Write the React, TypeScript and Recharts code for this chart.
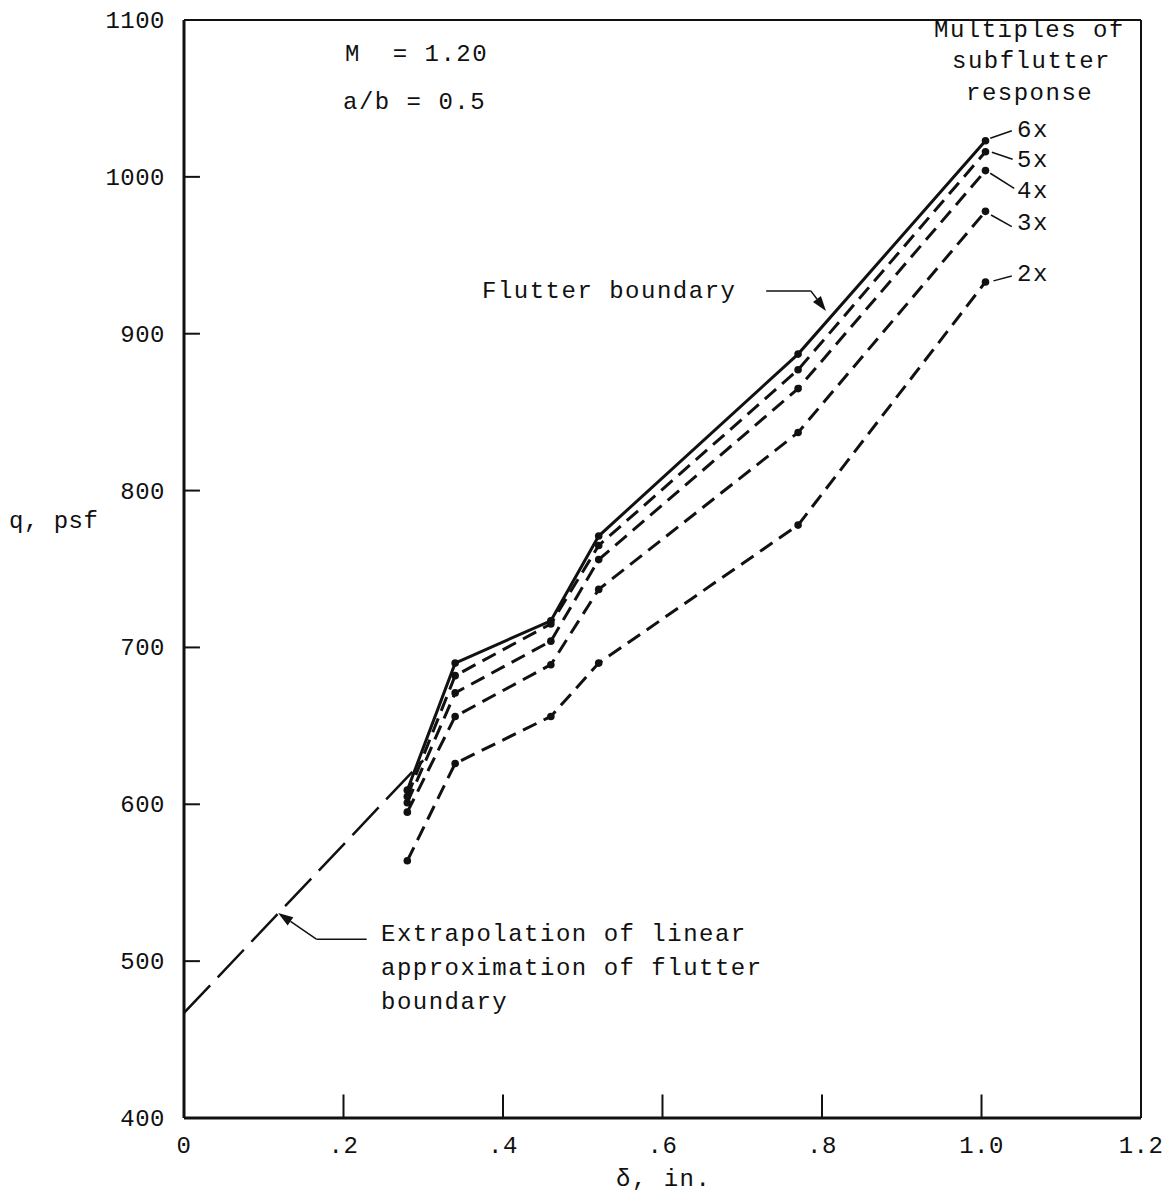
import React from 'react'
import { LineChart, Line, XAxis, YAxis, ReferenceLine } from 'recharts'

// deflection, in. (shared by every response curve)
const DELTA = [0.28, 0.34, 0.46, 0.52, 0.77, 1.005]

// q, psf for each multiple of subflutter response
const Q_6X = [609, 690, 717, 771, 887, 1023] // flutter boundary
const Q_5X = [605, 682, 715, 765, 877, 1016]
const Q_4X = [601, 671, 704, 756, 865, 1004]
const Q_3X = [595, 656, 689, 737, 837, 978]
const Q_2X = [564, 626, 656, 690, 778, 933]

// linear extrapolation of the flutter boundary
const EXTRAP_DELTA = [0, 0.3]
const EXTRAP_Q = [467, 628]

const X_TICKS = [0, 0.2, 0.4, 0.6, 0.8, 1.0, 1.2]
const X_TICK_LABELS = ['0', '.2', '.4', '.6', '.8', '1.0', '1.2']
const Y_TICKS = [400, 500, 600, 700, 800, 900, 1000, 1100]

const toRows = (xs: number[], ys: number[]) => xs.map((d, i) => ({ d, q: ys[i] }))

const SERIES = [
  { key: '6x', q: Q_6X, dash: undefined },
  { key: '5x', q: Q_5X, dash: '15 8' },
  { key: '4x', q: Q_4X, dash: '15 8' },
  { key: '3x', q: Q_3X, dash: '15 8' },
  { key: '2x', q: Q_2X, dash: '15 8' },
]

const FONT = '"Liberation Mono", "DejaVu Sans Mono", monospace'
const INK = '#111'

function Arrow(props: any) {
  const { x1, y1, x2, y2 } = props
  const ang = Math.atan2(y2 - y1, x2 - x1)
  const len = 15
  const w = 5
  const bx = x2 - len * Math.cos(ang)
  const by = y2 - len * Math.sin(ang)
  const px = -Math.sin(ang) * w
  const py = Math.cos(ang) * w
  return (
    <g>
      <line x1={x1} y1={y1} x2={bx} y2={by} stroke={INK} strokeWidth={1.5} />
      <polygon points={`${x2},${y2} ${bx + px},${by + py} ${bx - px},${by - py}`} fill={INK} />
    </g>
  )
}

function XTick({ x, y, payload }: any) {
  const i = X_TICKS.indexOf(payload.value)
  return (
    <text x={x} y={y + 35} textAnchor="middle" fontFamily={FONT} fontSize={24} letterSpacing={0.5} fill={INK}>
      {X_TICK_LABELS[i]}
    </text>
  )
}

function YTick({ x, y, payload }: any) {
  return (
    <text x={x - 19} y={y + 8} textAnchor="end" fontFamily={FONT} fontSize={24} letterSpacing={0.5} fill={INK}>
      {payload.value}
    </text>
  )
}

const txt: React.CSSProperties = {
  position: 'absolute',
  fontFamily: FONT,
  fontSize: 24,
  letterSpacing: 1.5,
  color: INK,
  whiteSpace: 'pre',
  lineHeight: '26px',
}

// leader lines from end points to the "Nx" labels: [d1, q1, d2, q2]
const LEADERS = [
  [1.011, 1024.6, 1.038, 1029.4],
  [1.013, 1015.7, 1.039, 1011.2],
  [1.011, 1002.3, 1.041, 992.7],
  [1.012, 975.7, 1.038, 968.3],
  [1.015, 933.7, 1.038, 936.8],
]

export default function App() {
  return (
    <div style={{ position: 'absolute', left: 0, top: 0, width: 1174, height: 1204, background: '#fff' }}>
      <LineChart width={1174} height={1204} margin={{ top: 20, right: 33, left: 124, bottom: 56 }}>
        <XAxis
          type="number"
          dataKey="d"
          domain={[0, 1.2]}
          ticks={X_TICKS}
          allowDataOverflow
          tickLine={false}
          tickSize={0}
          tickMargin={0}
          axisLine={{ stroke: INK, strokeWidth: 3 }}
          tick={<XTick />}
          height={30}
        />
        <YAxis
          type="number"
          domain={[400, 1100]}
          ticks={Y_TICKS}
          allowDataOverflow
          tickLine={false}
          tickSize={0}
          tickMargin={0}
          axisLine={{ stroke: INK, strokeWidth: 3 }}
          tick={<YTick />}
          width={60}
        />
        {/* frame */}
        <ReferenceLine y={1100} stroke={INK} strokeWidth={2} ifOverflow="visible" />
        <ReferenceLine x={1.2} stroke={INK} strokeWidth={2} ifOverflow="visible" />
        {/* inward ticks */}
        {X_TICKS.slice(1, -1).map((t) => (
          <ReferenceLine key={'xt' + t} segment={[{ x: t, y: 400 }, { x: t, y: 415 }]} stroke={INK} strokeWidth={2} />
        ))}
        {Y_TICKS.slice(1, -1).map((t) => (
          <ReferenceLine key={'yt' + t} segment={[{ x: 0, y: t }, { x: 0.02, y: t }]} stroke={INK} strokeWidth={2} />
        ))}
        <Line
          data={toRows(EXTRAP_DELTA, EXTRAP_Q)}
          dataKey="q"
          stroke={INK}
          strokeWidth={2.5}
          strokeDasharray="38 11"
          dot={false}
          isAnimationActive={false}
        />
        {SERIES.map((s) => (
          <Line
            key={s.key}
            data={toRows(DELTA, s.q)}
            dataKey="q"
            stroke={INK}
            strokeWidth={3}
            strokeDasharray={s.dash}
            dot={{ r: 3.8, fill: INK, stroke: INK, strokeWidth: 0 }}
            isAnimationActive={false}
          />
        ))}
        {LEADERS.map((l, i) => (
          <ReferenceLine
            key={'ld' + i}
            segment={[{ x: l[0], y: l[1] }, { x: l[2], y: l[3] }]}
            stroke={INK}
            strokeWidth={1.5}
            ifOverflow="visible"
          />
        ))}
        {/* flutter boundary callout */}
        <ReferenceLine segment={[{ x: 0.73, y: 927.3 }, { x: 0.786, y: 927.3 }]} stroke={INK} strokeWidth={1.5} />
        <ReferenceLine segment={[{ x: 0.786, y: 927.3 }, { x: 0.805, y: 914.5 }]} shape={<Arrow />} />
        {/* extrapolation callout */}
        <ReferenceLine segment={[{ x: 0.229, y: 514 }, { x: 0.166, y: 514 }]} stroke={INK} strokeWidth={1.5} />
        <ReferenceLine segment={[{ x: 0.166, y: 514 }, { x: 0.118, y: 530.7 }]} shape={<Arrow />} />
      </LineChart>

      <div style={{ ...txt, left: 345, top: 42 }}>M  = 1.20</div>
      <div style={{ ...txt, left: 343, top: 90 }}>a/b = 0.5</div>

      <div style={{ ...txt, left: 934, top: 18 }}>Multiples of</div>
      <div style={{ ...txt, left: 952, top: 49 }}>subflutter</div>
      <div style={{ ...txt, left: 966, top: 81 }}>response</div>

      <div style={{ ...txt, left: 1017, top: 118 }}>6x</div>
      <div style={{ ...txt, left: 1017, top: 148 }}>5x</div>
      <div style={{ ...txt, left: 1017, top: 179 }}>4x</div>
      <div style={{ ...txt, left: 1017, top: 211 }}>3x</div>
      <div style={{ ...txt, left: 1017, top: 262 }}>2x</div>

      <div style={{ ...txt, left: 482, top: 279 }}>Flutter boundary</div>

      <div style={{ ...txt, left: 381, top: 922 }}>Extrapolation of linear</div>
      <div style={{ ...txt, left: 381, top: 956 }}>approximation of flutter</div>
      <div style={{ ...txt, left: 381, top: 990 }}>boundary</div>

      <div style={{ ...txt, left: 9, top: 509, letterSpacing: 0.5 }}>q, psf</div>
      <div style={{ ...txt, left: 616, top: 1167 }}>δ, in.</div>
    </div>
  )
}
